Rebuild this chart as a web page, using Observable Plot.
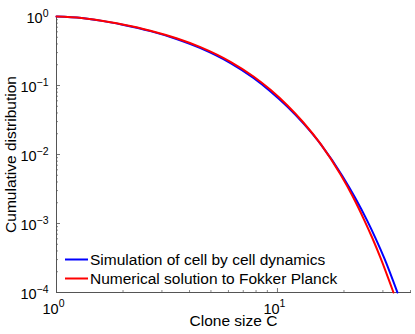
<!DOCTYPE html>
<html>
<head>
<meta charset="utf-8">
<script src="https://cdn.jsdelivr.net/npm/d3@7"></script>
<script src="https://cdn.jsdelivr.net/npm/@observablehq/plot@0.6"></script>
<style>
  html, body { margin: 0; padding: 0; background: #fff; }
  svg { display: block; }
</style>
</head>
<body>
<div id="chart"></div>
<script>
// ---- data ----
const seriesNames = ["Simulation of cell by cell dynamics", "Numerical solution to Fokker Planck"];
const seriesColors = ["#0000ff", "#ff0000"];

const simC = [1, 1.30, 1.755, 1.99, 2.66, 3.49, 4.48, 6.13, 7.79, 9.30, 11.1, 13.1, 15.8, 19.7, 22.5, 25.5, 27.8, 30.5, 34.9];
const simP = [1, 0.951, 0.822, 0.760, 0.614, 0.472, 0.348, 0.211, 0.1286, 0.0821, 0.0491, 0.0282, 0.0137, 0.00485, 0.00234, 0.00109, 0.000609, 0.000309, 0.0001];

const fpC = [1, 1.30, 1.755, 1.99, 2.66, 3.49, 4.48, 6.13, 7.79, 9.30, 11.1, 13.1, 15.7, 19.3, 21.8, 24.7, 26.9, 29.3, 33.5];
const fpP = [1, 0.951, 0.824, 0.765, 0.622, 0.483, 0.359, 0.220, 0.135, 0.0865, 0.0513, 0.0291, 0.0141, 0.00512, 0.00254, 0.00112, 0.000611, 0.000315, 0.0001];

const xMajorTicks = [1, 10];
const xMinorTicks = [2, 3, 4, 5, 6, 7, 8, 9, 20, 30, 40];
const yMajorTicks = [1e-4, 1e-3, 1e-2, 1e-1, 1];
const yMinorTicks = [
  2e-4, 3e-4, 4e-4, 5e-4, 6e-4, 7e-4, 8e-4, 9e-4,
  2e-3, 3e-3, 4e-3, 5e-3, 6e-3, 7e-3, 8e-3, 9e-3,
  2e-2, 3e-2, 4e-2, 5e-2, 6e-2, 7e-2, 8e-2, 9e-2,
  2e-1, 3e-1, 4e-1, 5e-1, 6e-1, 7e-1, 8e-1, 9e-1
];
const xTitle = "Clone size C";
const yTitle = "Cumulative distribution";

// ---- table built from the arrays ----
const rows = [];
simC.forEach((c, i) => rows.push({series: seriesNames[0], C: c, P: simP[i]}));
fpC.forEach((c, i) => rows.push({series: seriesNames[1], C: c, P: fpP[i]}));

const expFmt = d => String(Math.round(Math.log10(d)));
const FONT = "'Liberation Sans', Arial, Helvetica, sans-serif";

const chart = Plot.plot({
  width: 415,
  height: 334,
  marginLeft: 56,
  marginRight: 5,
  marginTop: 16,
  marginBottom: 42,
  style: {fontFamily: FONT, background: "#fff", color: "#000"},
  x: {type: "log", domain: [1, 40]},
  y: {type: "log", domain: [1e-4, 1]},
  color: {domain: seriesNames, range: seriesColors},
  marks: [
    // minor ticks (inside)
    Plot.axisX(xMinorTicks, {tickSize: -2, tickFormat: () => "", label: null, stroke: "#888"}),
    Plot.axisY(yMinorTicks, {tickSize: -2, tickFormat: () => "", label: null, stroke: "#888"}),
    // major ticks (inside)
    Plot.axisX(xMajorTicks, {tickSize: -4, tickFormat: () => "", label: null, stroke: "#777"}),
    Plot.axisY(yMajorTicks, {tickSize: -4, tickFormat: () => "", label: null, stroke: "#777"}),
    // tick labels
    Plot.axisX(xMajorTicks, {tickSize: 0, tickPadding: 11, tickFormat: expFmt, label: null, fontSize: 14.5, textAnchor: "middle", dx: -3}),
    Plot.axisY(yMajorTicks, {tickSize: 0, tickPadding: 8, tickFormat: expFmt, label: null, fontSize: 14.5, dy: 2}),
    // axis lines
    Plot.frame({anchor: "left", stroke: "#555"}),
    Plot.frame({anchor: "bottom", stroke: "#555"}),
    // curves
    Plot.line(rows, {x: "C", y: "P", z: "series", stroke: "series", strokeWidth: 2, curve: "monotone-x"}),
    // axis titles
    Plot.text([xTitle], {frameAnchor: "bottom", dy: 33.5, fontSize: 15.5, fill: "#000", textAnchor: "middle"}),
    Plot.text([yTitle], {frameAnchor: "left", rotate: -90, dx: -45, fontSize: 15.5, fill: "#000", textAnchor: "middle"})
  ]
});

// superscript exponents on tick labels
d3.select(chart).selectAll('g[aria-label="x-axis tick label"] text, g[aria-label="y-axis tick label"] text').each(function() {
  const t = d3.select(this);
  const e = t.text();
  if (!e) return;
  t.text("10");
  t.append("tspan").attr("dy", "-6.5").attr("font-size", "10.5px").text(e.replace("-", "\u2212"));
});

// legend
const svg = d3.select(chart);
const leg = svg.append("g").attr("font-family", FONT).attr("font-size", "15.5px").attr("text-anchor", "start");
seriesNames.forEach((name, i) => {
  const y = 259.5 + i * 19;
  leg.append("line").attr("x1", 65).attr("x2", 88).attr("y1", y).attr("y2", y)
    .attr("stroke", seriesColors[i]).attr("stroke-width", 2);
  leg.append("text").attr("x", 90).attr("y", y + 5.5).attr("fill", "#000").attr("text-anchor", "start").text(name);
});

document.getElementById("chart").appendChild(chart);
</script>
</body>
</html>
